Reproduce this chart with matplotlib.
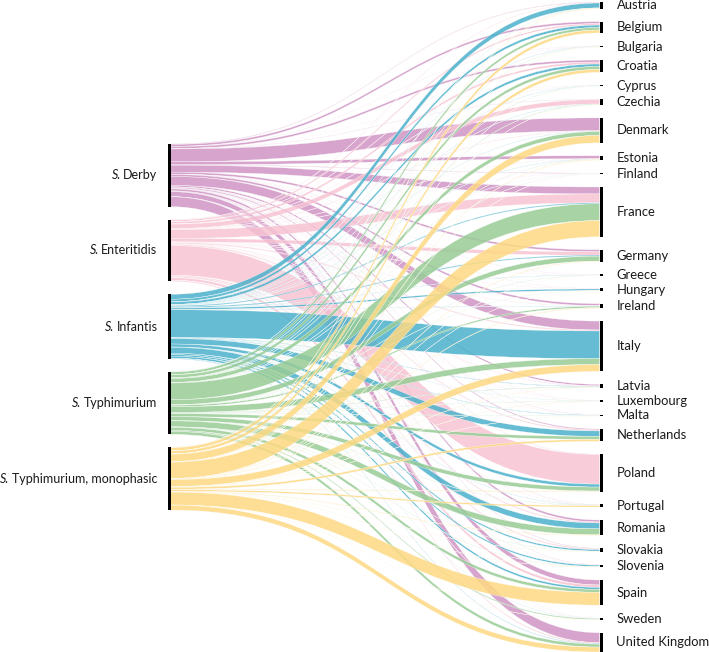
import numpy as np
import matplotlib.pyplot as plt
from matplotlib.path import Path
from matplotlib.patches import PathPatch, Rectangle

plt.rcParams['font.family'] = ['Lato', 'DejaVu Sans']

# serovars (left) and countries (right)
serovars = ['Derby', 'Enteritidis', 'Infantis', 'Typhimurium', 'Typhimurium, monophasic']
colors = ['#cf94c4', '#f7c3d2', '#4bb1cb', '#98cc96', '#fdd982']

countries = ['Austria', 'Belgium', 'Bulgaria', 'Croatia', 'Cyprus', 'Czechia', 'Denmark',
             'Estonia', 'Finland', 'France', 'Germany', 'Greece', 'Hungary', 'Ireland',
             'Italy', 'Latvia', 'Luxembourg', 'Malta', 'Netherlands', 'Poland', 'Portugal',
             'Romania', 'Slovakia', 'Slovenia', 'Spain', 'Sweden', 'United Kingdom']

# flow sizes, one list per serovar, same order as countries
derby = [0.5, 2, 0.2, 2, 0.1, 0.3, 13, 3, 0.5, 7, 2, 0.2, 0.2, 2,
         9, 1.5, 0.2, 0.3, 1, 0.3, 0.3, 2, 0.5, 0.3, 5, 0.2, 10]
enteritidis = [0.5, 1.5, 0.3, 2, 0.3, 4.5, 0.5, 0.3, 0.2, 9, 3.5, 0.2, 0.3, 0.3,
               1, 0.5, 0.2, 0.2, 1, 30, 0.3, 1, 1, 0.3, 2.5, 0.2, 1]
infantis = [5, 2.5, 0.3, 2.5, 0.3, 0.3, 0.3, 0.3, 0.1, 1, 1, 0.3, 1.5, 0.3,
            28, 0.5, 0.2, 0.5, 5.5, 3, 0.3, 6, 1.5, 1.5, 2, 0.2, 0.5]
typhimurium = [0.3, 2.5, 0.3, 3, 0.3, 0.5, 4, 0.3, 0.2, 17, 5, 0.3, 0.2, 1.5,
               6, 0.5, 0.3, 0.3, 3, 4, 0.3, 6, 0.3, 0.3, 3, 1, 3]
monophasic = [0.5, 3, 0.2, 3, 0.1, 0.2, 7.5, 0.5, 0.1, 16.5, 0.5, 0.1, 0.1, 0.5,
              7, 0.3, 0.3, 0.2, 2, 0.5, 1.5, 0.5, 0.2, 0.2, 13, 0.2, 5]

flows = np.array([derby, enteritidis, infantis, typhimurium, monophasic])
src_tot = flows.sum(axis=1)
tgt_tot = flows.sum(axis=0)

W, H = 709, 652
fig = plt.figure(figsize=(7.09, 6.52), dpi=100)
ax = fig.add_axes([0, 0, 1, 1])
ax.set_xlim(0, W)
ax.set_ylim(H, 0)
ax.axis('off')

gap = 12.9
top, bottom = 2, 652
k = (bottom - top - gap * (len(countries) - 1)) / tgt_tot.sum()
mid = (top + bottom) / 2

tgt_y = top + np.concatenate([[0], np.cumsum(tgt_tot * k + gap)[:-1]])
left_h = src_tot.sum() * k + gap * (len(serovars) - 1)
src_y = mid - left_h / 2 + np.concatenate([[0], np.cumsum(src_tot * k + gap)[:-1]])

x0, x1 = 170.5, 599.5
bw = 3

# offsets inside nodes: at source ordered by target, at target ordered by source
src_off = src_y[:, None] + np.cumsum(flows * k, axis=1) - flows * k
tgt_off = tgt_y[None, :] + np.cumsum(flows * k, axis=0) - flows * k

xm = (x0 + x1) / 2
for s in range(len(serovars)):
    for t in range(len(countries)):
        h = flows[s, t] * k
        if h <= 0:
            continue
        ya, yb = src_off[s, t], tgt_off[s, t]
        verts = [(x0, ya), (xm, ya), (xm, yb), (x1, yb),
                 (x1, yb + h), (xm, yb + h), (xm, ya + h), (x0, ya + h), (x0, ya)]
        codes = [Path.MOVETO, Path.CURVE4, Path.CURVE4, Path.CURVE4,
                 Path.LINETO, Path.CURVE4, Path.CURVE4, Path.CURVE4, Path.CLOSEPOLY]
        ax.add_patch(PathPatch(Path(verts, codes), facecolor=colors[s], alpha=0.85,
                               edgecolor='white', lw=0.25))

renderer = fig.canvas.get_renderer()
for s, name in enumerate(serovars):
    ax.add_patch(Rectangle((x0 - bw, src_y[s]), bw, src_tot[s] * k, facecolor='black',
                           lw=0, zorder=3))
    yc = src_y[s] + src_tot[s] * k / 2
    txt = ax.text(x0 - bw - 10, yc, name, ha='right', va='center',
                  fontsize=9, color='#1a1a1a')
    wpx = txt.get_window_extent(renderer=renderer).width
    ax.text(x0 - bw - 10 - wpx - 2.5, yc, 'S.', ha='right', va='center',
            fontsize=9, color='#1a1a1a', style='italic')

for t, name in enumerate(countries):
    ax.add_patch(Rectangle((x1, tgt_y[t]), bw, max(tgt_tot[t] * k, 1.2), facecolor='black',
                           lw=0, zorder=3))
    ax.text(x1 + bw + 14, tgt_y[t] + tgt_tot[t] * k / 2, name, ha='left', va='center',
            fontsize=9.4, color='#1a1a1a')

fig.savefig('out.png', dpi=100)
